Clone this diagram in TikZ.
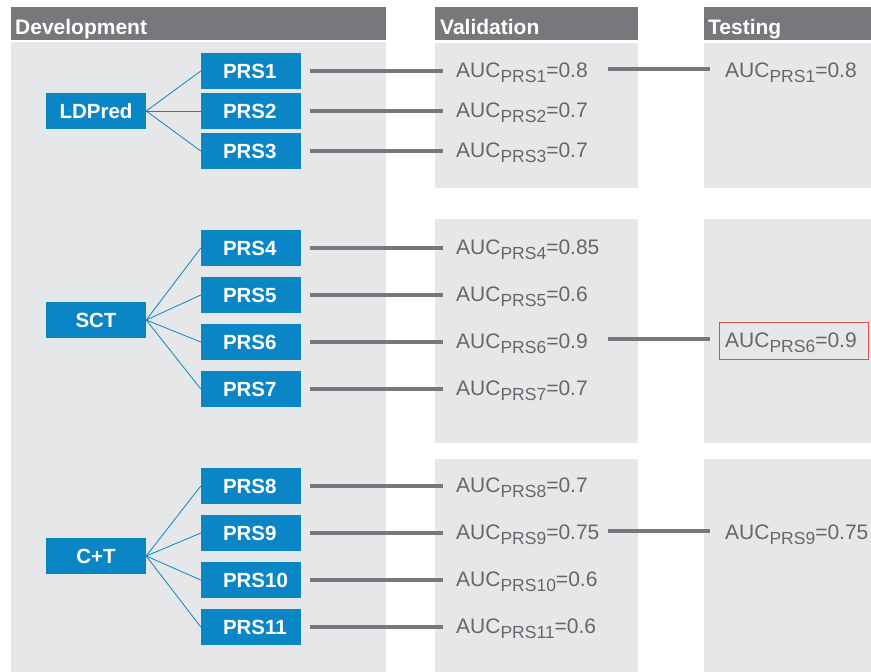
\documentclass[tikz,border=0pt]{standalone}
\usepackage{fontspec}
\setmainfont{Liberation Sans}
\usetikzlibrary{calc}
\definecolor{hdrgray}{HTML}{77787B}
\definecolor{panelgray}{HTML}{E6E7E8}
\definecolor{prsblue}{HTML}{0A86C6}
\definecolor{txtgray}{HTML}{66676A}
\definecolor{hlred}{HTML}{E0504A}
\newcommand\aucval[2]{AUC\raisebox{-5pt}{\fontsize{17.5}{18}\selectfont PRS#1}=#2}
\begin{document}
\begin{tikzpicture}[x=1pt,y=-1pt,
  hdrtext/.style={text=white, font=\fontsize{21}{24}\selectfont\bfseries, anchor=base west, inner sep=0},
  method/.style={fill=prsblue, text=white, font=\fontsize{20.5}{24}\selectfont\bfseries, minimum width=100, minimum height=36, inner sep=0},
  prs/.style={method, text width=56, align=left},
  link/.style={prsblue, line width=0.8pt},
  conn/.style={hdrgray, line width=3.5pt},
  auc/.style={text=txtgray, font=\fontsize{21}{24}\selectfont, anchor=base west, inner sep=0},
  hlbox/.style={draw=hlred, line width=0.8pt}]
\path[use as bounding box] (0,0) rectangle (871,672);
% headers
\fill[hdrgray] (11,7) rectangle (386,40);
\fill[hdrgray] (435,7) rectangle (638,40);
\fill[hdrgray] (704,7) rectangle (871,40);
\node[hdrtext] (hdev) at (15,34) {Development};
\node[hdrtext] (hval) at (440,34) {Validation};
\node[hdrtext] (htest) at (708,34) {Testing};
% panels
\fill[panelgray] (11,42) rectangle (386,672);
\fill[panelgray] (435,43) rectangle (638,188);
\fill[panelgray] (704,43) rectangle (871,188);
\fill[panelgray] (435,219) rectangle (638,443);
\fill[panelgray] (704,219) rectangle (871,443);
\fill[panelgray] (435,459) rectangle (638,672);
\fill[panelgray] (704,459) rectangle (871,672);
% methods
\node[method] (m1) at (96,111) {LDPred};
\node[method] (m2) at (96,320) {SCT};
\node[method] (m3) at (96,556) {C+T};
% PRS boxes and validation values
\foreach \i/\y/\v in {1/71/0.8,2/111/0.7,3/151/0.7,4/248/0.85,5/295/0.6,6/342/0.9,7/389/0.7,8/486/0.7,9/533/0.75,10/580/0.6,11/627/0.6}{
  \node[prs] (p\i) at (251,\y) {PRS\i};
  \node[auc] (v\i) at (456,\y+6) {\aucval{\i}{\v}};
  \draw[conn] ($(p\i.east)+(9,0)$) -- ($(p\i.east -| v\i.west)+(-13,0)$);
}
\foreach \i in {1,2,3} \draw[link] (m1.east) -- (p\i.west);
\foreach \i in {4,5,6,7} \draw[link] (m2.east) -- (p\i.west);
\foreach \i in {8,9,10,11} \draw[link] (m3.east) -- (p\i.west);
% testing
\node[auc] (t1) at (725,77) {\aucval{1}{0.8}};
\node[auc] (t6) at (725,347) {\aucval{6}{0.9}};
\node[auc] (t9) at (725,539) {\aucval{9}{0.75}};
\draw[hlbox] ($(t6.base west)+(-6,-25)$) rectangle ($(t6.base west)+(143,12)$);
\coordinate (c1) at (608,69);
\coordinate (c6) at (608,339);
\coordinate (c9) at (608,531);
\draw[conn] (c1) -- ($(c1 -| t1.west)+(-15,0)$);
\draw[conn] (c6) -- ($(c6 -| t6.west)+(-15,0)$);
\draw[conn] (c9) -- ($(c9 -| t9.west)+(-15,0)$);
\end{tikzpicture}
\end{document}
